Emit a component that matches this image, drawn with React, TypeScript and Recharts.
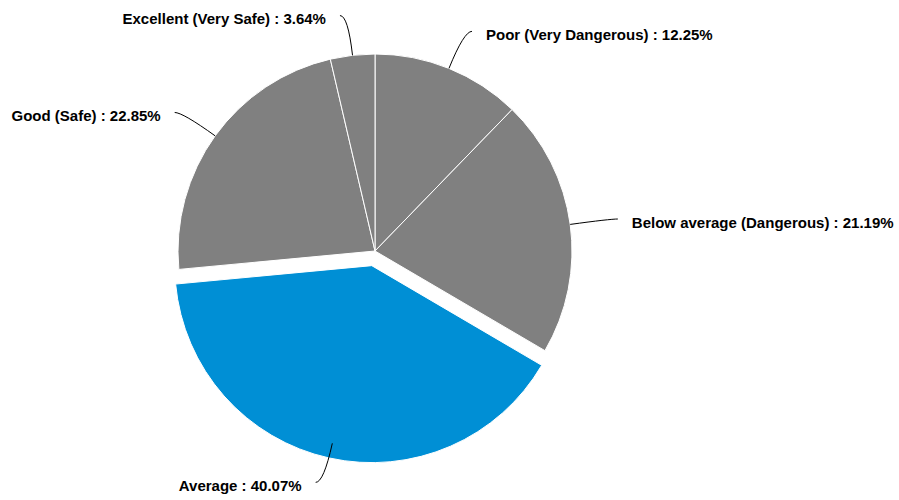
import React from 'react';
import { PieChart, Pie, Cell } from 'recharts';

const categories = [
  'Poor (Very Dangerous)',
  'Below average (Dangerous)',
  'Average',
  'Good (Safe)',
  'Excellent (Very Safe)',
];
const values = [12.25, 21.19, 40.07, 22.85, 3.64];
const highlighted = 'Average';

const data = categories.map((name, i) => ({ name, value: values[i] }));

const GRAY = '#808080';
const BLUE = '#008fd5';
const RAD = Math.PI / 180;
const CX = 375;
const CY = 251;
const R = 197;
const EXPLODE = 15;

const polar = (cx: number, cy: number, r: number, angle: number) => ({
  x: cx + r * Math.cos(-angle * RAD),
  y: cy + r * Math.sin(-angle * RAD),
});

const renderLabel = (props: any) => {
  const { midAngle, name, value } = props;
  const start = polar(CX, CY, R, midAngle);
  const bend = polar(CX, CY, R + 40, midAngle);
  const right = bend.x >= CX;
  const dir = right ? 1 : -1;
  const end = { x: bend.x + dir * 8, y: bend.y };
  const d = `M${start.x},${start.y} Q${bend.x},${bend.y} ${end.x},${end.y}`;
  return (
    <g key={`lbl-${name}`}>
      <path d={d} stroke="#000" strokeWidth={1} fill="none" />
      <text
        x={end.x + dir * 14}
        y={bend.y + 3}
        textAnchor={right ? 'start' : 'end'}
        dominantBaseline="central"
        fontFamily="'Liberation Sans', Arial, sans-serif"
        fontWeight="bold"
        fontSize={15}
        fill="#000"
      >
        {`${name} : ${value.toFixed(2)}%`}
      </text>
    </g>
  );
};

// explode offset direction based on mid angle of highlighted slice
const total = values.reduce((a, b) => a + b, 0);
const hIdx = categories.indexOf(highlighted);
const before = values.slice(0, hIdx).reduce((a, b) => a + b, 0);
const hMid = 90 - ((before + values[hIdx] / 2) / total) * 360;
const off = polar(0, 0, EXPLODE, hMid);

export default function App() {
  return (
    <div style={{ position: 'absolute', left: 0, top: 0 }}>
      <PieChart width={899} height={500} margin={{ top: 0, right: 0, bottom: 0, left: 0 }}>
        <Pie
          data={data}
          dataKey="value"
          nameKey="name"
          cx={CX}
          cy={CY}
          outerRadius={R}
          startAngle={90}
          endAngle={-270}
          stroke="#fff"
          strokeWidth={1}
          isAnimationActive={false}
          labelLine={false}
          label={renderLabel}
        >
          {data.map((d) => (
            <Cell
              key={d.name}
              fill={d.name === highlighted ? 'transparent' : GRAY}
              stroke={d.name === highlighted ? 'none' : '#fff'}
            />
          ))}
        </Pie>
        <Pie
          data={data}
          dataKey="value"
          nameKey="name"
          cx={CX + off.x}
          cy={CY + off.y}
          outerRadius={R}
          startAngle={90}
          endAngle={-270}
          isAnimationActive={false}
          labelLine={false}
          label={false}
        >
          {data.map((d) => (
            <Cell
              key={d.name}
              fill={d.name === highlighted ? BLUE : 'transparent'}
              stroke={d.name === highlighted ? '#fff' : 'none'}
            />
          ))}
        </Pie>
      </PieChart>
    </div>
  );
}
